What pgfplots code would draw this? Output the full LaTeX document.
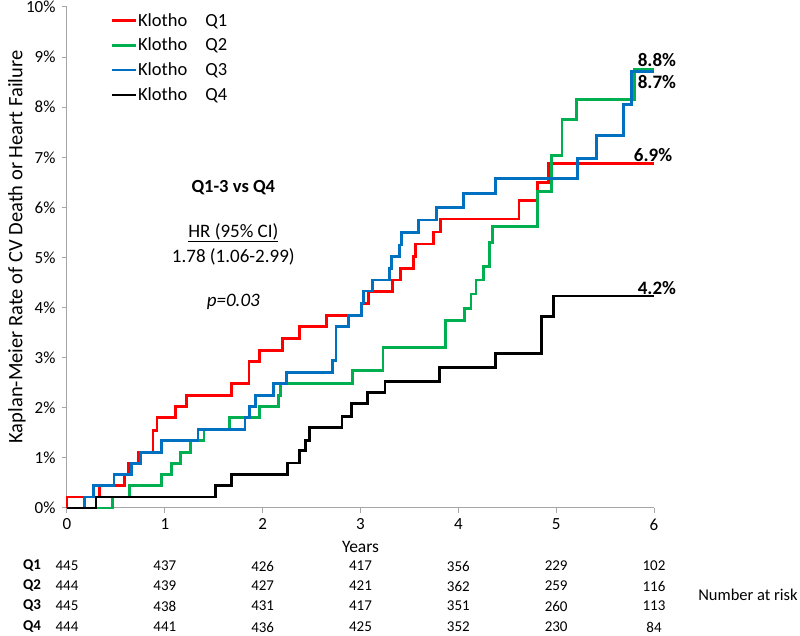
\documentclass[border=0pt]{standalone}
\usepackage{pgfplots}
\pgfplotsset{compat=1.18}
\usepackage{fontspec}
\setmainfont{Carlito}
\definecolor{kred}{RGB}{255,0,0}
\definecolor{kgreen}{RGB}{0,176,80}
\definecolor{kblue}{RGB}{0,112,192}
\definecolor{axgray}{RGB}{166,166,166}
\begin{document}
\begin{tikzpicture}
\path[use as bounding box] (-67pt,-128pt) rectangle (733pt,508pt);
\begin{axis}[
  at={(0pt,0pt)}, anchor=south west,
  scale only axis, width=587pt, height=501pt,
  xmin=0, xmax=6, ymin=0, ymax=10,
  axis x line*=bottom, axis y line*=left,
  axis line style={axgray, line width=1pt},
  tick style={axgray, line width=1pt},
  tick align=outside, major tick length=5pt,
  xtick={0,1,2,3,4,5,6}, ytick={0,1,2,3,4,5,6,7,8,9,10},
  /pgf/number format/assume math mode=true,
  yticklabel={\pgfmathprintnumber{\tick}\%},
  tick label style={font=\fontsize{17}{19}\selectfont},
  xticklabel style={yshift=-2pt},
  yticklabel style={xshift=-3pt},
  clip=false,
  legend style={draw=none, fill=none, at={(axis cs:0.41,9.94)}, anchor=north west,
    font=\fontsize{18.5}{21}\selectfont, row sep=8.5pt, nodes={inner sep=1pt}},
  legend cell align=left,
  legend image code/.code={\draw[#1] (0pt,0pt) -- (24pt,0pt);},
  every axis plot/.append style={line width=2.8pt, const plot, mark=none},
]
% Q1 red
\addplot[kred] coordinates {
(0,0) (0,0.22) (0.33,0.45) (0.59,0.67) (0.63,0.89) (0.73,1.11) (0.88,1.55) (0.92,1.80)
(1.11,2.02) (1.22,2.25) (1.68,2.49) (1.86,2.93) (1.97,3.15) (2.20,3.39) (2.38,3.62)
(2.65,3.85) (3.01,4.08) (3.08,4.32) (3.33,4.55) (3.41,4.78) (3.54,5.02) (3.56,5.27)
(3.75,5.51) (3.82,5.77) (4.62,6.13) (4.81,6.49) (4.92,6.88) (6.00,6.88)};
\addlegendentry{Klotho\hspace{18pt}Q1}
% Q2 green
\addplot[kgreen] coordinates {
(0,0) (0.467,0.22) (0.64,0.45) (0.97,0.67) (1.07,0.89) (1.16,1.11) (1.26,1.35) (1.40,1.57)
(1.66,1.80) (1.97,2.03) (2.16,2.25) (2.18,2.49) (2.92,2.74) (3.23,3.21) (3.865,3.74)
(4.06,3.98) (4.13,4.27) (4.18,4.55) (4.26,4.82) (4.32,5.30) (4.35,5.62) (4.81,6.31)
(4.95,7.03) (5.06,7.76) (5.21,8.16) (5.80,8.76) (6.00,8.76)};
\addlegendentry{Klotho\hspace{18pt}Q2}
% Q3 blue
\addplot[kblue] coordinates {
(0,0) (0.18,0.22) (0.27,0.45) (0.48,0.67) (0.66,0.89) (0.75,1.11) (0.97,1.35) (1.34,1.57)
(1.82,1.80) (1.865,2.03) (1.93,2.25) (2.11,2.49) (2.24,2.71) (2.71,2.95) (2.75,3.63)
(2.88,3.85) (3.01,4.09) (3.03,4.33) (3.125,4.55) (3.30,4.78) (3.32,5.02) (3.40,5.25)
(3.42,5.50) (3.59,5.75) (3.78,6.00) (4.05,6.28) (4.38,6.57) (5.22,6.98) (5.415,7.43)
(5.69,8.06) (5.77,8.71) (6.00,8.71)};
\addlegendentry{Klotho\hspace{18pt}Q3}
% Q4 black
\addplot[black] coordinates {
(0,0) (0.297,0.22) (1.52,0.45) (1.68,0.67) (2.25,0.90) (2.38,1.14) (2.44,1.35) (2.48,1.60)
(2.81,1.83) (2.91,2.08) (3.07,2.30) (3.25,2.52) (3.81,2.80) (4.38,3.09) (4.85,3.82)
(4.97,4.23) (6.00,4.23)};
\addlegendentry{Klotho\hspace{18pt}Q4}
% annotations
\node[font=\bfseries\fontsize{18.5}{21}\selectfont] at (axis cs:1.70,6.39) {Q1-3 vs Q4};
\node[font=\fontsize{19}{21}\selectfont] at (axis cs:1.70,5.50) {\underline{HR (95\% CI)}};
\node[font=\fontsize{19}{21}\selectfont] at (axis cs:1.70,5.02) {1.78 (1.06-2.99)};
\node[font=\itshape\fontsize{19}{21}\selectfont] at (axis cs:1.70,4.12) {p=0.03};
\node[font=\bfseries\fontsize{19}{22}\selectfont] at (axis cs:6.03,8.94) {8.8\%};
\node[font=\bfseries\fontsize{19}{22}\selectfont] at (axis cs:6.03,8.50) {8.7\%};
\node[font=\bfseries\fontsize{19}{22}\selectfont] at (axis cs:5.99,7.05) {6.9\%};
\node[font=\bfseries\fontsize{19}{22}\selectfont] at (axis cs:6.03,4.39) {4.2\%};
\end{axis}
% y label
\node[rotate=90, font=\fontsize{20.5}{23}\selectfont] at (-50pt,261pt) {Kaplan-Meier Rate of CV Death or Heart Failure};
% x label
\node[font=\fontsize{17.5}{20}\selectfont] at (293.5pt,-39pt) {Years};
% number at risk
\begin{scope}[font=\fontsize{15}{18}\selectfont]
\node[font=\bfseries\fontsize{15}{18}\selectfont] at (-35pt,-58pt) {Q1};
\node[font=\bfseries\fontsize{15}{18}\selectfont] at (-35pt,-78pt) {Q2};
\node[font=\bfseries\fontsize{15}{18}\selectfont] at (-35pt,-98pt) {Q3};
\node[font=\bfseries\fontsize{15}{18}\selectfont] at (-35pt,-119pt) {Q4};
\foreach \v [count=\i from 0] in {445,437,426,417,356,229,102}
  \node at ({97.833*\i pt},-58pt) {\v};
\foreach \v [count=\i from 0] in {444,439,427,421,362,259,116}
  \node at ({97.833*\i pt},-78pt) {\v};
\foreach \v [count=\i from 0] in {445,438,431,417,351,260,113}
  \node at ({97.833*\i pt},-98pt) {\v};
\foreach \v [count=\i from 0] in {444,441,436,425,352,230,84}
  \node at ({97.833*\i pt},-119pt) {\v};
\node[font=\fontsize{16.5}{19}\selectfont] at (681pt,-87pt) {Number at risk};
\end{scope}
\end{tikzpicture}
\end{document}
